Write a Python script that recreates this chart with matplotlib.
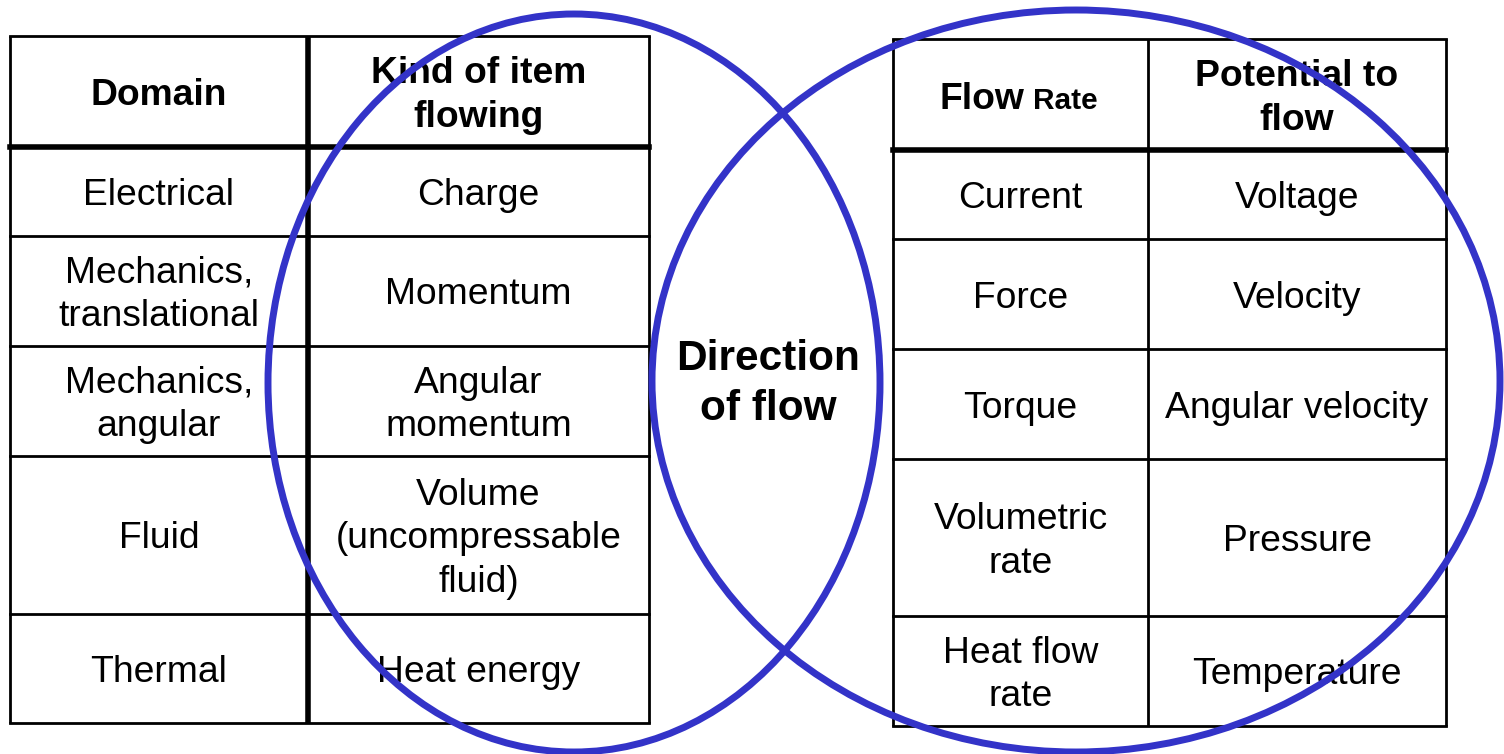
import matplotlib
matplotlib.use("Agg")
import matplotlib.pyplot as plt
from matplotlib.patches import Ellipse

plt.rcParams['font.family'] = ['Liberation Sans', 'DejaVu Sans']

# ---- data ----
left_headers = ["Domain", "Kind of item\nflowing"]
left_col1 = ["Electrical", "Mechanics,\ntranslational", "Mechanics,\nangular", "Fluid", "Thermal"]
left_col2 = ["Charge", "Momentum", "Angular\nmomentum", "Volume\n(uncompressable\nfluid)", "Heat energy"]

right_header_a = ("Flow", "Rate")
right_header_b = "Potential to\nflow"
right_col1 = ["Current", "Force", "Torque", "Volumetric\nrate", "Heat flow\nrate"]
right_col2 = ["Voltage", "Velocity", "Angular velocity", "Pressure", "Temperature"]

center_label = "Direction\nof flow"

# ---- layout (pixel coordinates) ----
W, H = 1504, 754
fig = plt.figure(figsize=(W / 100, H / 100), dpi=100)
ax = fig.add_axes([0, 0, 1, 1])
ax.set_xlim(0, W)
ax.set_ylim(H, 0)
ax.axis('off')

L_x = [10, 308, 649]
L_y = [36, 147, 236, 346, 456, 614, 723]
R_x = [893, 1148, 1446]
R_y = [39, 150, 239, 349, 459, 616, 726]

thin = 2.0
thick = 4.0
FS = 26.8
HFS = 26.8
LS = 1.31


def hline(y, x0, x1, lw):
    ax.plot([x0, x1], [y, y], color='black', lw=lw, solid_capstyle='projecting', zorder=2)


def vline(x, y0, y1, lw):
    ax.plot([x, x], [y0, y1], color='black', lw=lw, solid_capstyle='butt', zorder=2)


# left table
for i, y in enumerate(L_y):
    hline(y, L_x[0], L_x[2], thick if i == 1 else thin)
vline(L_x[0], L_y[0], L_y[-1], thin)
vline(L_x[2], L_y[0], L_y[-1], thin)
vline(L_x[1], L_y[0], L_y[-1], thick)

# right table
for i, y in enumerate(R_y):
    hline(y, R_x[0], R_x[2], thick if i == 1 else thin)
vline(R_x[0], R_y[0], R_y[-1], thin)
vline(R_x[2], R_y[0], R_y[-1], thin)
vline(R_x[1], R_y[0], R_y[-1], thin)


def cell_text(x0, x1, y0, y1, s, bold=False, fs=FS, dy=4):
    ax.text((x0 + x1) / 2, (y0 + y1) / 2 + dy, s, ha='center', va='center',
            fontsize=fs, fontweight='bold' if bold else 'normal',
            linespacing=LS, zorder=3)


# left header
cell_text(L_x[0], L_x[1], L_y[0], L_y[1], left_headers[0], bold=True, fs=HFS)
cell_text(L_x[1], L_x[2], L_y[0], L_y[1], left_headers[1], bold=True, fs=HFS)
for r in range(5):
    cell_text(L_x[0], L_x[1], L_y[r + 1], L_y[r + 2], left_col1[r])
    cell_text(L_x[1], L_x[2], L_y[r + 1], L_y[r + 2], left_col2[r])

# right header
ax.text(1024, 109, right_header_a[0], ha='right', va='baseline',
        fontsize=HFS, fontweight='bold', zorder=3)
ax.text(1033, 109, right_header_a[1], ha='left', va='baseline',
        fontsize=21.5, fontweight='bold', zorder=3)
cell_text(R_x[1], R_x[2], R_y[0], R_y[1], right_header_b, bold=True, fs=HFS)
for r in range(5):
    cell_text(R_x[0], R_x[1], R_y[r + 1], R_y[r + 2], right_col1[r])
    cell_text(R_x[1], R_x[2], R_y[r + 1], R_y[r + 2], right_col2[r])

# center label
ax.text(768, 384, center_label, ha='center', va='center', fontsize=30.5,
        fontweight='bold', linespacing=1.3, zorder=3)

# ellipses
blue = '#3333c8'
ax.add_patch(Ellipse((574, 383), 612, 738, fill=False, edgecolor=blue, lw=5, zorder=4))
ax.add_patch(Ellipse((1076, 381), 848, 742, fill=False, edgecolor=blue, lw=5, zorder=4))

fig.savefig('out.png', dpi=100)
